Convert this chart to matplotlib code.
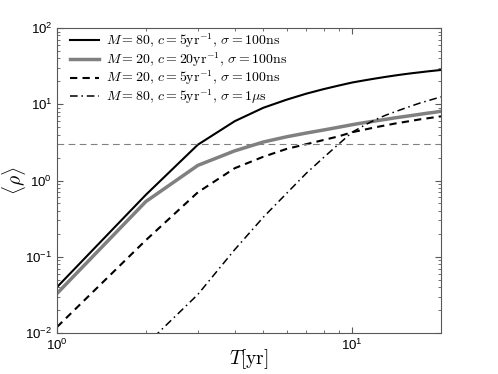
import numpy as np
import matplotlib
matplotlib.use('Agg')
import matplotlib.pyplot as plt

plt.rcParams['font.family'] = ['Liberation Sans', 'DejaVu Sans']
plt.rcParams['mathtext.fontset'] = 'cm'

# observation time T [yr]
T = [1, 2, 3, 4, 5, 6, 7, 8, 9, 10, 11, 12, 13, 14, 15, 16, 17, 18, 19, 20]

# <rho> for each configuration
rho_m80_c5 = [0.040, 0.65, 2.95, 6.0, 9.0, 11.5, 13.8, 15.8, 17.6, 19.3,
              20.6, 21.8, 22.9, 23.9, 24.8, 25.6, 26.3, 27.0, 27.6, 28.2]
rho_m20_c20 = [0.033, 0.53, 1.58, 2.45, 3.2, 3.75, 4.2, 4.6, 5.0, 5.4,
               5.75, 6.05, 6.35, 6.65, 6.9, 7.15, 7.4, 7.65, 7.85, 8.1]
rho_m20_c5 = [0.012, 0.165, 0.70, 1.45, 2.05, 2.6, 3.0, 3.4, 3.8, 4.3,
              4.65, 5.0, 5.3, 5.6, 5.85, 6.1, 6.35, 6.55, 6.75, 6.95]
rho_m80_1us = [0.0003, 0.007, 0.032, 0.124, 0.33, 0.68, 1.25, 2.0, 3.0, 4.3,
               5.3, 6.3, 7.2, 8.0, 8.8, 9.6, 10.4, 11.1, 11.8, 12.5]

labels = [r'$M=80,\,c=5\mathrm{yr}^{-1},\,\sigma=100\mathrm{ns}$',
          r'$M=20,\,c=20\mathrm{yr}^{-1},\,\sigma=100\mathrm{ns}$',
          r'$M=20,\,c=5\mathrm{yr}^{-1},\,\sigma=100\mathrm{ns}$',
          r'$M=80,\,c=5\mathrm{yr}^{-1},\,\sigma=1\mu\mathrm{s}$']

threshold = 3

fig = plt.figure(figsize=(4.98, 3.74), dpi=100)
ax = fig.add_axes([0.1145, 0.1096, 0.771, 0.8154])

ax.plot(T, rho_m80_c5, color='black', lw=1.5, label=labels[0])
ax.plot(T, rho_m20_c20, color='0.5', lw=2.5, label=labels[1])
ax.plot(T, rho_m20_c5, color='black', lw=1.5, ls=(0, (3.5, 2.5)), label=labels[2])
ax.plot(T, rho_m80_1us, color='black', lw=1.1, ls=(0, (5, 2.5, 1, 2.5)), label=labels[3])
ax.axhline(threshold, color='0.5', lw=0.8, ls=(0, (6, 4)))

ax.set_xscale('log')
ax.set_yscale('log')
ax.set_xlim(1, 20)
ax.set_ylim(1e-2, 1e2)

for sp in ax.spines.values():
    sp.set_color('0.35')
ax.tick_params(which='both', direction='in', top=True, right=True,
               color='0.35', labelsize=9.5)
ax.tick_params(which='major', length=4)
ax.tick_params(which='minor', length=2)

ax.set_xlabel(r'$T[\mathrm{yr}]$', fontsize=14)
ax.set_ylabel(r'$\langle\rho\rangle$', fontsize=14)
ax.xaxis.set_label_coords(0.5, -0.045)
ax.yaxis.set_label_coords(-0.075, 0.5)

ax.legend(loc='upper left', bbox_to_anchor=(0.025, 1.0), borderaxespad=0,
          frameon=False, fontsize=10, handlelength=2.1, borderpad=0.25,
          labelspacing=0.0, handletextpad=0.5)

fig.savefig('out.png', dpi=100)
